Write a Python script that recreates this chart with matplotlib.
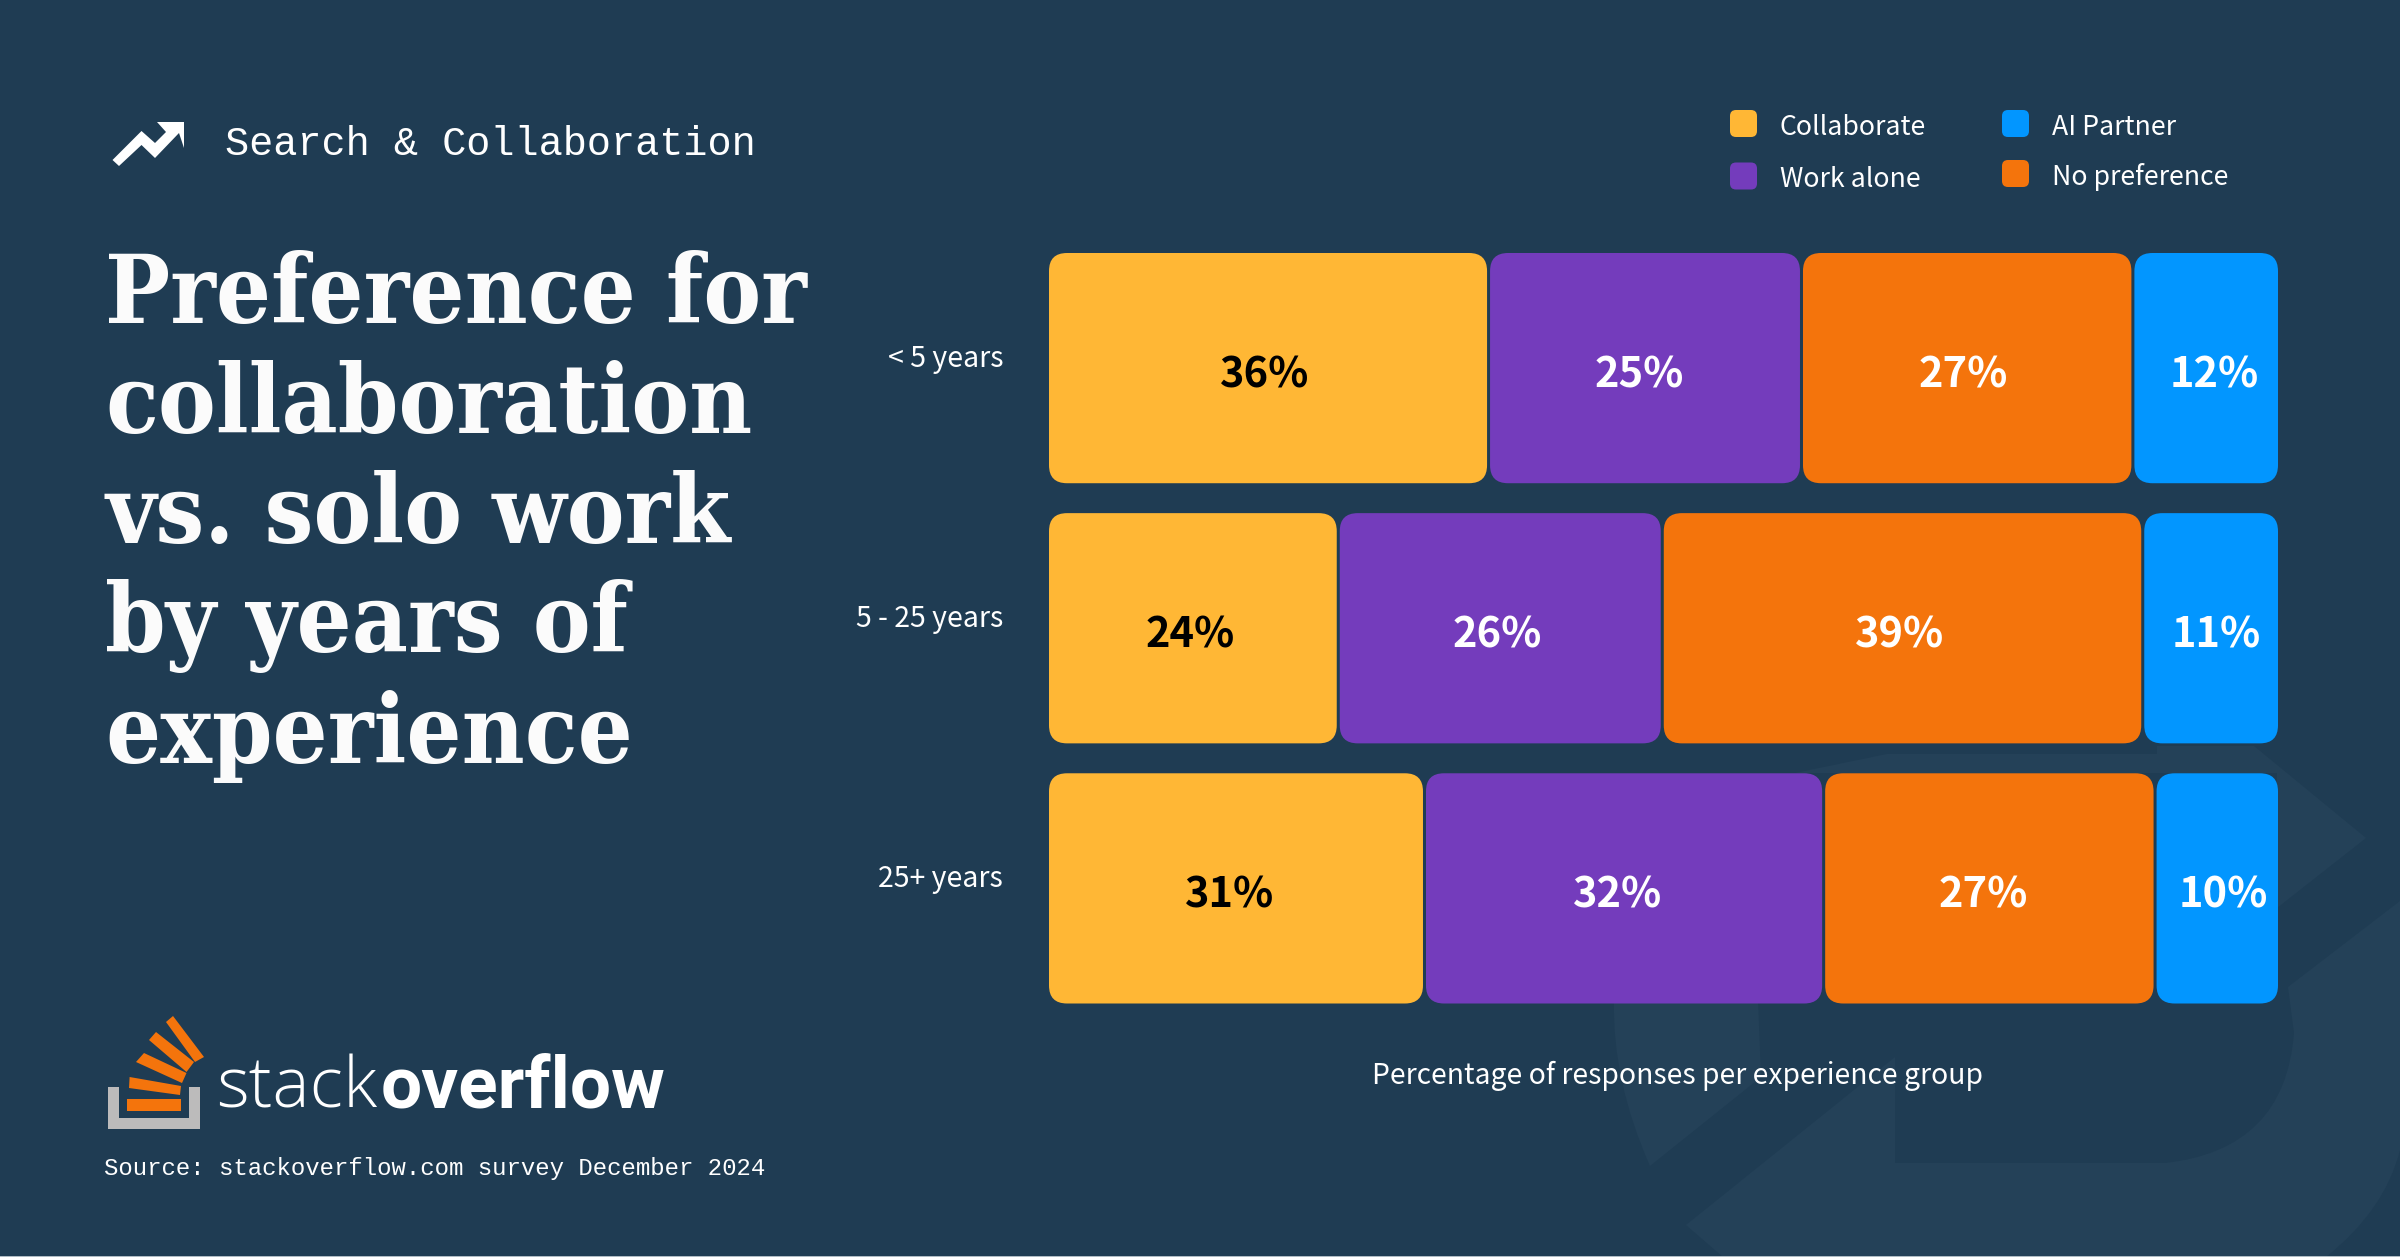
import matplotlib
matplotlib.use("Agg")
import matplotlib.pyplot as plt
from matplotlib.patches import FancyBboxPatch, Polygon, PathPatch, Rectangle
from matplotlib.path import Path
from matplotlib.transforms import ScaledTranslation

BG = "#1F3C53"
WM = "#244158"
W, H = 2400, 1257

groups = ["< 5 years", "5 - 25 years", "25+ years"]
series = ["Collaborate", "Work alone", "No preference", "AI Partner"]
colors = ["#FFB735", "#743CBC", "#F4740C", "#0296FF"]
text_colors = ["black", "white", "white", "white"]
collaborate = [35.8, 23.6, 30.6]
work_alone = [25.4, 26.3, 32.4]
no_pref = [26.9, 39.0, 26.9]
ai_partner = [11.9, 11.1, 10.1]
label_collaborate = ["36%", "24%", "31%"]
label_work_alone = ["25%", "26%", "32%"]
label_no_pref = ["27%", "39%", "27%"]
label_ai_partner = ["12%", "11%", "10%"]
title_lines = "Preference for\ncollaboration\nvs. solo work\nby years of\nexperience"

SANS = ["Noto Sans CJK SC", "DejaVu Sans"]
plt.rcParams["font.family"] = SANS
fig = plt.figure(figsize=(W / 200, H / 200), dpi=200, facecolor=BG)

def X(p): return p / W
def Y(p): return 1 - p / H

bg = fig.add_axes([0, 0, 1, 1])
bg.set_xlim(0, W); bg.set_ylim(H, 0); bg.axis("off")
bg.set_zorder(0)

# watermark
M, L, C3 = Path.MOVETO, Path.LINETO, Path.CURVE3
bg.add_patch(Polygon([(1795,773),(1887,754),(2157,754),(2157,746),(2254,746),(2366,838),(2277,908),(2277,773)],
                     closed=True, fc=WM, ec="none"))
bg.add_patch(PathPatch(Path(
    [(1895,1057),(1686,1225),(1723,1257),(2326,1257),(2385,1210),(2400,1150),(2400,901),(2288,987),
     (2294,1033),(2294,1033),(2285,1150),(2165,1163),(1895,1163),(1895,1057)],
    [M,L,L,L,C3,C3,L,L,L,L,C3,C3,L,L]), fc=WM, ec="none"))
bg.add_patch(PathPatch(Path(
    [(1614,1000),(1758,1000),(1761,1077),(1650,1166),(1612,1080),(1614,1000)],
    [M,L,L,L,C3,C3]), fc=WM, ec="none"))
bg.add_patch(Rectangle((0, 1255.5), W, 1.5, fc="#AEBBC4", ec="none"))

# chart
gap = 3 * 100 / 1230
ax = fig.add_axes([X(1049), Y(1003.5), (2278 - 1049) / W, (1003.5 - 253) / H])
ax.patch.set_alpha(0)
ax.set_zorder(2)
ax.set_xlim(0, 100 - gap)
ax.set_ylim(2.4425, -0.4425)
for s in ax.spines.values():
    s.set_visible(False)
ax.set_xticks([])
ax.set_yticks(range(3), groups)
ax.tick_params(axis="y", length=0, pad=16.5, labelsize=10.25, labelcolor="white")
off = ScaledTranslation(0, 9.5 / 200, fig.dpi_scale_trans)
for t in ax.get_yticklabels():
    t.set_va("center")
    t.set_transform(t.get_transform() + off)

px_x = (2278 - 1049) / (100 - gap)
px_y = 260
rad = 18 / px_x
aspect = px_x / px_y
all_vals = [collaborate, work_alone, no_pref, ai_partner]
all_lab = [label_collaborate, label_work_alone, label_no_pref, label_ai_partner]
# small horizontal offset of each percentage label from its bar's centre, in pixels
label_nudge = [[-3, -3, -6], [-6, -3, -6], [-4, -3, -6], [8, 5, 6]]
left = [0.0, 0.0, 0.0]
for vals, labs, c, tc, nud in zip(all_vals, all_lab, colors, text_colors, label_nudge):
    for i, v in enumerate(vals):
        rect = FancyBboxPatch((left[i], i - 0.4425), v - gap, 0.885,
                              boxstyle=f"round,pad=0,rounding_size={rad}",
                              mutation_aspect=aspect, fc=c, ec="none")
        ax.add_patch(rect)
        ax.text(left[i] + (v - gap) / 2 + nud[i] / px_x, i + 19.3 / px_y, labs[i], color=tc,
                ha="center", va="baseline", fontsize=15, fontweight="bold")
        left[i] += v

ax.set_xlabel("Percentage of responses per experience group", color="white", fontsize=10.2)
ax.xaxis.set_label_coords((1677.5 - 1049) / 1229, -(1084 - 1003.5) / 750.5, transform=ax.transAxes)
ax.xaxis.label.set_va("baseline")

# legend
lg_items = [(1730, 123.5, 135, 0), (1730, 176, 187, 1), (2002, 123.5, 135, 3), (2002, 173.5, 185, 2)]
for lx, ly, by, idx in lg_items:
    bg.add_patch(FancyBboxPatch((lx, ly - 13.5), 27, 27, boxstyle="round,pad=0,rounding_size=6",
                                fc=colors[idx], ec="none"))
    bg.text(lx + 49.5, by, series[idx], color="white", fontsize=9.6, va="baseline", ha="left")

# header
bg.text(225, 155, "Search & Collaboration", color="white", fontsize=14.5, family=["Liberation Mono"], va="baseline", ha="left")
bg.add_patch(Polygon([(112.5,160),(119,166),(141.5,145),(155,158),(179,133),(184,148),(184,122),(157,122),(166,132),(155,143),(141.5,131)],
                     closed=True, fc="white", ec="none"))

# title
bg.text(105, 516.5, title_lines, color="#FBFBFB", fontsize=34.7, fontweight="bold", family=["DejaVu Serif"],
        stretch="condensed", va="center", ha="left", linespacing=1.227)

# logo
for pts, c in [
    ([(107.5,1087),(107.5,1129),(199.5,1129),(199.5,1087),(189,1087),(189,1118),(119,1118),(119,1087)], "#BCBBBB"),
    ([(127,1099),(181,1099),(181,1111),(127,1111)], "#F4740C"),
    ([(129.6,1077),(181,1086),(180,1095),(129,1088)], "#F4740C"),
    ([(136,1062),(144,1053),(186.5,1073),(182,1083)], "#F4740C"),
    ([(149,1040),(156,1032),(194,1062),(186.5,1072)], "#F4740C"),
    ([(166,1022),(173,1016),(204,1057),(195,1062)], "#F4740C"),
]:
    bg.add_patch(Polygon(pts, closed=True, fc=c, ec="none"))
bg.text(216, 1108, "stack", color="white", fontsize=25.3, family=["Open Sans"], fontweight="light", va="baseline", ha="left")
bg.text(381, 1108, "overflow", color="white", fontsize=26.3, family=["Roboto"], fontweight="bold", va="baseline", ha="left")
bg.text(104.5, 1175, "Source: stackoverflow.com survey December 2024", color="white", fontsize=8.65,
        family=["Liberation Mono"], va="baseline", ha="left")

fig.savefig("out.png", dpi=200, facecolor=BG)
